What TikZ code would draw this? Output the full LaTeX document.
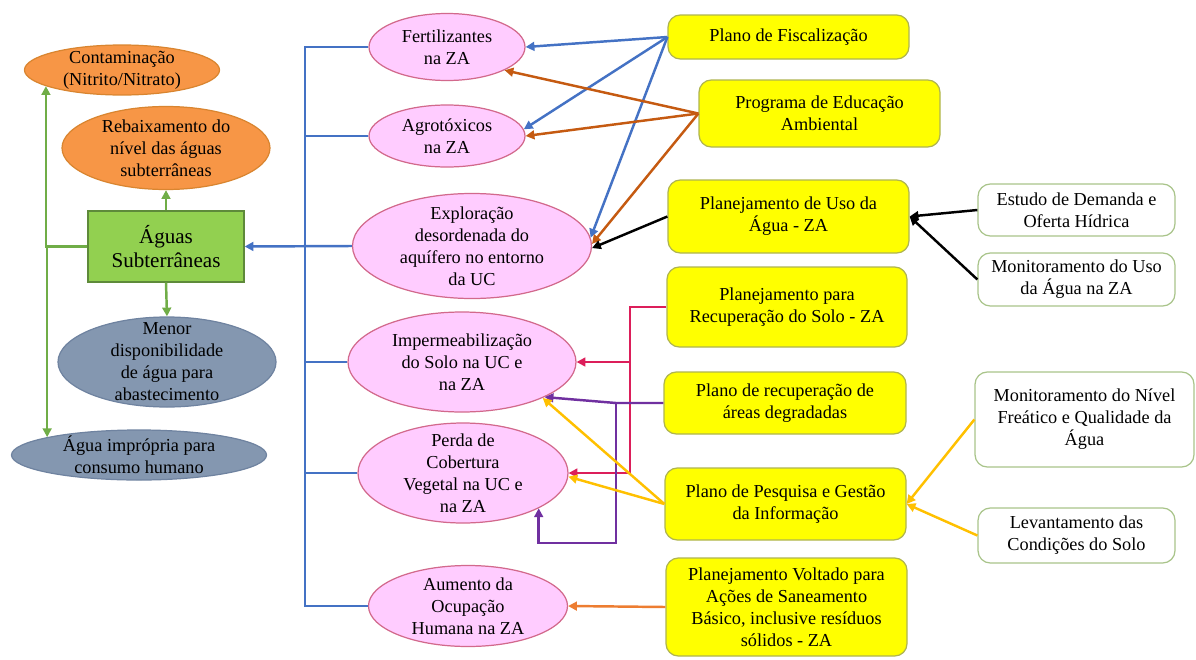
\documentclass[tikz,border=0pt]{standalone}
\usepackage{fontspec}
\setmainfont{Liberation Serif}
\usetikzlibrary{shapes.geometric,arrows.meta,calc}
\definecolor{orfill}{HTML}{F79646}
\definecolor{orbd}{HTML}{D98530}
\definecolor{gbfill}{HTML}{8497B0}
\definecolor{gbbd}{HTML}{6F83A0}
\definecolor{grfill}{HTML}{92D050}
\definecolor{grbd}{HTML}{5E8A3A}
\definecolor{pkfill}{HTML}{FFCCFF}
\definecolor{pkbd}{HTML}{D2698C}
\definecolor{yefill}{HTML}{FFFF00}
\definecolor{yebd}{HTML}{AFB450}
\definecolor{whbd}{HTML}{A9C48A}
\definecolor{cblue}{HTML}{4472C4}
\definecolor{cbrown}{HTML}{C55A11}
\definecolor{ccrim}{HTML}{DC1E5A}
\definecolor{cpurp}{HTML}{7030A0}
\definecolor{cgold}{HTML}{FFC000}
\definecolor{corng}{HTML}{ED7D31}
\definecolor{cgreen}{HTML}{70AD47}
\newcommand\myfont{\fontsize{10.4}{12.5}\selectfont}
\newcommand\mybigfont{\fontsize{12}{14}\selectfont}
\begin{document}
\begin{tikzpicture}[x=0.02cm,y=-0.02cm,
  lab/.style={align=center,font=\myfont,inner sep=0pt},
  ellbase/.style 2 args={ellipse,minimum width=#1*0.02cm,minimum height=#2*0.02cm,inner sep=0pt,line width=0.7pt},
  oell/.style 2 args={ellbase={#1}{#2},draw=orbd,fill=orfill},
  gell/.style 2 args={ellbase={#1}{#2},draw=gbbd,fill=gbfill},
  pell/.style 2 args={ellbase={#1}{#2},draw=pkbd,fill=pkfill},
  boxbase/.style 2 args={rectangle,rounded corners=7pt,minimum width=#1*0.02cm,minimum height=#2*0.02cm,align=center,font=\myfont,inner sep=1pt,line width=0.7pt},
  ybox/.style 2 args={boxbase={#1}{#2},draw=yebd,fill=yefill},
  wbox/.style 2 args={boxbase={#1}{#2},draw=whbd,fill=white},
  con/.style={line width=1.4pt},
  arr/.style={con,-{Triangle[length=5pt,width=5pt]}},
]
\useasboundingbox (0,0) rectangle (1196,659);

% left column
\node[oell={195}{50},label={[lab]center:{Contaminação\\(Nitrito/Nitrato)}}] (cont) at (122,70) {};
\node[oell={208}{83},label={[lab]center:{Rebaixamento do\\nível das águas\\subterrâneas}}] (rebx) at (166,148) {};
\node[draw=grbd,fill=grfill,line width=0.7pt,minimum width=156*0.02cm,minimum height=71*0.02cm,align=center,font=\mybigfont,inner sep=0pt] (aguas) at (166,246.5) {Águas\\Subterrâneas};
\node[gell={218}{90},label={[lab]center:{Menor\\disponibilidade\\de água para\\abastecimento}}] (menor) at (167,362) {};
\node[gell={255}{50},label={[lab]center:{Água imprópria para\\consumo humano}}] (impr) at (139,455) {};

% pink ellipses
\node[pell={156}{67},label={[lab]center:{Fertilizantes\\na ZA}}] (fert) at (447,47) {};
\node[pell={156}{62},label={[lab]center:{Agrotóxicos\\na ZA}}] (agro) at (447,136) {};
\node[pell={239}{105},label={[lab]center:{Exploração\\desordenada do\\aquífero no entorno\\da UC}}] (expl) at (472,246) {};
\node[pell={228}{100},label={[lab]center:{Impermeabilização\\do Solo na UC e\\na ZA}}] (imper) at (462,362) {};
\node[pell={210}{100},label={[lab]center:{Perda de\\Cobertura\\Vegetal na UC e\\na ZA}}] (perda) at (463,473) {};
\node[pell={199}{81},label={[lab]center:{Aumento da\\Ocupação\\Humana na ZA}}] (aum) at (468,606) {};

% yellow boxes
\node[ybox={241}{44}] (fisc) at (788.5,37) {Plano de Fiscalização};
\node[ybox={241}{67}] (edu) at (819.5,113.5) {Programa de Educação\\Ambiental};
\node[ybox={241}{73}] (uso) at (788.5,216.5) {Planejamento de Uso da\\Água - ZA};
\node[ybox={240}{80}] (recsolo) at (787,307) {Planejamento para\\Recuperação do Solo - ZA};
\node[ybox={242}{62}] (degr) at (785,403) {Plano de recuperação de\\áreas degradadas};
\node[ybox={241}{72}] (pesq) at (785.5,504) {Plano de Pesquisa e Gestão\\da Informação};
\node[ybox={241}{98}] (sane) at (786.5,607) {Planejamento Voltado para\\Ações de Saneamento\\Básico, inclusive resíduos\\sólidos - ZA};

% white boxes
\node[wbox={197}{52}] (estudo) at (1076.5,210) {Estudo de Demanda e\\Oferta Hídrica};
\node[wbox={197}{53}] (monuso) at (1076.5,279.5) {Monitoramento do Uso\\da Água na ZA};
\node[wbox={219}{95}] (monniv) at (1084.5,419.5) {Monitoramento do Nível\\Freático e Qualidade da\\Água};
\node[wbox={197}{55}] (levant) at (1076.5,535.5) {Levantamento das\\Condições do Solo};

% green connectors
\draw[arr,cgreen] (aguas.north) -- (rebx.south);
\draw[arr,cgreen] (aguas.south) -- (menor.north);
\draw[arr,cgreen] (aguas.west) -| (cont.-168);
\draw[arr,cgreen] (aguas.west) -| (impr.169);

% blue bus
\coordinate (bus) at (305,0);
\draw[con,cblue] (fert.west) -- (fert.west -| bus) -- (aum.west -| bus) -- (aum.west);
\draw[con,cblue] (agro.west) -- (agro.west -| bus);
\draw[con,cblue] (imper.west) -- (imper.west -| bus);
\draw[con,cblue] (perda.west) -- (perda.west -| bus);
\draw[arr,cblue] (expl.west) -- (aguas.east);

% Plano de Fiscalizacao
\draw[arr,cblue] (fisc.west) -- (fert.east);
\draw[arr,cblue] (fisc.west) -- (agro.5);
\draw[arr,cblue] (fisc.west) -- (expl.4);

% Educacao
\draw[arr,cbrown] (edu.west) -- (fert.-22);
\draw[arr,cbrown] (edu.west) -- (agro.east);
\draw[arr,cbrown] (edu.west) -- (expl.1);

% Uso da agua
\draw[arr,black] (uso.west) -- (expl.-1);
\draw[arr,black] (estudo.west) -- (uso.east);
\draw[arr,black] (monuso.west) -- (uso.east);

% Recuperacao do solo (crimson)
\coordinate (cx) at (630,0);
\draw[con,ccrim] (recsolo.west) -- (recsolo.west -| cx) -- (perda.east -| cx);
\draw[arr,ccrim] (imper.east -| cx) -- (imper.east);
\draw[arr,ccrim] (perda.east -| cx) -- (perda.east);

% Areas degradadas (purple)
\coordinate (px) at (616,403);
\draw[arr,cpurp] (degr.west) -- (px) -- (imper.-23);
\draw[arr,cpurp] (px) -- (616,543) -| (perda.-25);

% Pesquisa (gold)
\draw[arr,cgold] (pesq.west) -- (imper.-24);
\draw[arr,cgold] (pesq.west) -- (perda.-2);
\draw[arr,cgold] (monniv.west) -- (pesq.east);
\draw[arr,cgold] (levant.west) -- (pesq.east);

% Saneamento (orange)
\draw[arr,corng] (sane.west) -- (aum.east);
\end{tikzpicture}
\end{document}
